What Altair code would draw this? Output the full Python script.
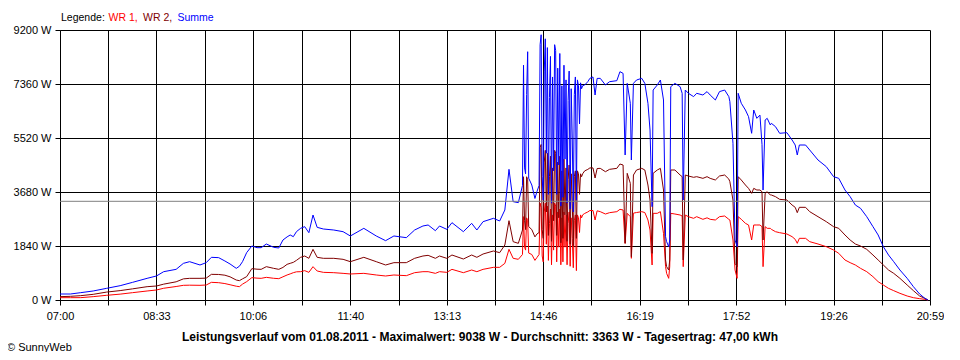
import json
import altair as alt
import pandas as pd

# ---------------- data ----------------
times = [
    "07:00", "07:10", "07:20", "07:32", "07:45", "07:58", "08:10", "08:24", "08:33", "08:40",
    "08:52", "08:59", "09:05", "09:15", "09:21", "09:26", "09:33", "09:39", "09:44", "09:50",
    "09:53", "09:56", "10:00", "10:05", "10:10", "10:14", "10:19", "10:26", "10:31", "10:35",
    "10:39", "10:42", "10:45", "10:48",
    "10:52", "10:56", "11:00", "11:04", "11:08", "11:14", "11:24", "11:33", "11:40", "11:53",
    "12:05", "12:14", "12:22", "12:34", "12:42", "12:50", "12:55", "13:02", "13:06", "13:13",
    "13:18", "13:29", "13:37", "13:42", "13:48", "13:58", "14:04", "14:09", "14:13", "14:17",
    "14:22", "14:26", "14:27", "14:28", "14:29", "14:30", "14:31", "14:32", "14:35", "14:38",
    "14:40", "14:42",
    "14:43", "14:44", "14:45", "14:46", "14:47", "14:48", "14:49", "14:50", "14:51", "14:52",
    "14:53", "14:54", "14:55", "14:56", "14:57", "14:58", "14:59", "15:00", "15:01", "15:02",
    "15:03", "15:04", "15:05", "15:06", "15:07", "15:08", "15:09", "15:10", "15:11", "15:12",
    "15:13", "15:14", "15:15", "15:16", "15:17", "15:18", "15:19", "15:20", "15:21", "15:22",
    "15:23", "15:24",
    "15:26", "15:29", "15:31", "15:34", "15:36", "15:38", "15:41", "15:46", "15:50", "15:57",
    "16:00", "16:03", "16:05", "16:07", "16:10", "16:11", "16:13", "16:16", "16:21", "16:24",
    "16:27", "16:29", "16:31", "16:32", "16:36", "16:39", "16:42", "16:44", "16:45", "16:47",
    "16:48", "16:49", "16:53", "16:58", "17:00", "17:01", "17:03", "17:06", "17:11", "17:14",
    "17:20", "17:24", "17:27", "17:32", "17:36", "17:41", "17:45", "17:46", "17:49", "17:51",
    "17:53", "17:54", "17:57", "18:01", "18:04", "18:07", "18:09", "18:12", "18:15", "18:17",
    "18:18", "18:20", "18:22", "18:25", "18:26", "18:30", "18:34", "18:41", "18:46", "18:49",
    "18:51", "18:53", "18:59", "19:03", "19:11", "19:19", "19:26", "19:31", "19:37", "19:42",
    "19:47", "19:52", "19:58", "20:04", "20:09", "20:14", "20:19", "20:24", "20:30", "20:37",
    "20:43", "20:49", "20:54", "20:57",
]

summe = [
    204, 204, 250, 307, 398, 488, 602, 738, 818, 965,
    1045, 1249, 1306, 1193, 1272, 1454, 1443, 1329, 1227, 1079,
    1150, 1306, 1613, 1840, 1783, 1783, 1908, 1795, 1772, 2044,
    2150, 2215, 2158, 2328,
    2442, 2499, 2294, 2896, 2476, 2419, 2385, 2328, 2181, 2442,
    2181, 2022, 2181, 2124, 2385, 2522, 2556, 2362, 2522, 2408,
    2635, 2328, 2612, 2385, 2669, 2783, 2692, 3067, 4452, 3351,
    3317, 3900, 8000, 4500, 4300, 7000, 8460, 4150, 3918, 3460,
    3700, 3900,
    8700, 9038, 4200, 3400, 7800, 8900, 5000, 8600, 3600, 6900,
    8300, 3300, 7600, 4400, 8700, 8500, 3600, 7900, 4600, 8400,
    3200, 7300, 3500, 8000, 4800, 7500, 3300, 6800, 7800, 3100,
    7200, 5500, 3000, 7000, 7600, 3400, 7500, 7300, 6000, 7400,
    7200, 7300,
    7326, 7439, 7553, 7600, 6985, 7550, 7553, 7326, 7439, 7473,
    7780, 7723, 4941, 7382, 6703, 4770, 7382, 7496, 7553, 7382,
    6703, 5793, 3180, 7155, 7326, 7496, 6815, 2158, 1988, 1817,
    2044, 7269, 7382, 7269, 7043, 3407, 7155, 7043, 6930, 7043,
    6985, 7100, 6985, 6815, 7100, 7155, 6930, 6760, 5339, 2044,
    1817, 7043, 6703, 6474, 6247, 5680, 6474, 6190, 6300, 5300,
    3748, 6133, 6190, 5963, 6020, 5907, 5680, 5702, 5452, 5281,
    4941, 5281, 5281, 5111, 4770, 4543, 4202, 4145, 3748, 3521,
    3237, 3124, 2839, 2499, 2215, 1817, 1533, 1306, 1022, 738,
    454, 204, 57, 0,
]

wr2 = [
    114, 125, 148, 193, 270, 320, 380, 454, 477, 540,
    620, 720, 738, 738, 745, 874, 870, 845, 790, 680,
    659, 720, 795, 1068, 1050, 1045, 1136, 1079, 1045, 1110,
    1215, 1250, 1283, 1350,
    1454, 1499, 1420, 1726, 1454, 1420, 1420, 1386, 1306, 1454,
    1306, 1193, 1272, 1272, 1420, 1499, 1522, 1420, 1499, 1420,
    1533, 1397, 1533, 1454, 1567, 1670, 1613, 1874, 2703, 1988,
    1931, 2385, 4200, 2700, 2400, 4200, 4100, 2500, 2400, 2150,
    2250, 2300,
    5200, 5300, 2400, 2100, 4700, 5100, 3000, 5000, 2200, 4200,
    4900, 2000, 4500, 2700, 5100, 5000, 2200, 4700, 2800, 4900,
    1950, 4400, 2100, 4800, 2900, 4500, 2000, 4100, 4600, 1900,
    4300, 3300, 1850, 4200, 4400, 2100, 4400, 4300, 3600, 4300,
    4200, 4300,
    4400, 4450, 4500, 4500, 4157, 4480, 4486, 4372, 4452, 4486,
    4634, 4600, 1931, 4316, 3975, 1476, 4259, 4430, 4486, 4430,
    3918, 3407, 1590, 4316, 4430, 4486, 3748, 1363, 1136, 1022,
    1363, 4430, 4430, 4259, 4202, 1363, 4259, 4225, 4180, 4202,
    4145, 4202, 4145, 4089, 4225, 4259, 4120, 4032, 3407, 1249,
    1136, 4202, 4089, 3918, 3804, 3634, 3804, 3748, 3748, 3690,
    2044, 3634, 3690, 3578, 3578, 3521, 3430, 3407, 3237, 3158,
    2976, 3158, 3158, 3010, 2839, 2669, 2499, 2442, 2215, 2044,
    1908, 1840, 1726, 1533, 1363, 1193, 1022, 908, 738, 511,
    318, 136, 57, 0,
]

wr1 = [
    79, 79, 80, 114, 160, 200, 250, 307, 341, 400,
    460, 500, 505, 500, 511, 602, 590, 560, 520, 470,
    454, 540, 625, 761, 745, 738, 772, 740, 727, 790,
    852, 890, 931, 960,
    965, 1000, 942, 1136, 988, 942, 931, 908, 886, 908,
    852, 818, 852, 829, 931, 965, 965, 908, 965, 942,
    1045, 931, 1022, 965, 1045, 1113, 1113, 1249, 1726, 1420,
    1386, 1550, 2840, 1800, 1700, 2800, 2700, 1600, 1550, 1350,
    1450, 1550,
    3300, 3150, 1500, 1300, 3000, 3300, 1900, 3200, 1350, 2600,
    3100, 1200, 2900, 1700, 3300, 3200, 1300, 3000, 1800, 3100,
    1200, 2800, 1300, 3000, 1800, 2900, 1200, 2600, 3000, 1150,
    2800, 2100, 1100, 2700, 2900, 1000, 2900, 2800, 2300, 2900,
    2800, 2900,
    2950, 3000, 3050, 3050, 2726, 3040, 3010, 2930, 2976, 3010,
    3090, 3067, 1931, 2953, 2839, 1420, 2960, 2980, 3010, 2980,
    2726, 2385, 1193, 2953, 2953, 3010, 2272, 1136, 908, 738,
    1136, 2953, 2930, 2896, 2862, 1136, 2896, 2839, 2783, 2839,
    2749, 2800, 2749, 2726, 2839, 2862, 2749, 2726, 2044, 1022,
    738, 2839, 2750, 2612, 2556, 2044, 2556, 2556, 2556, 2499,
    1136, 2499, 2442, 2442, 2408, 2328, 2294, 2249, 2158, 2067,
    1931, 2101, 2101, 1988, 1908, 1817, 1704, 1590, 1363, 1272,
    1193, 1079, 965, 795, 625, 511, 397, 318, 227, 136,
    79, 45, 23, 0,
]

y_ticks = [0, 1840, 3680, 5520, 7360, 9200]
x_tick_labels = ["07:00", "08:33", "10:06", "11:40", "13:13",
                 "14:46", "16:19", "17:52", "19:26", "20:59"]
average_w = [3363]

legend_texts = ["Legende:", "WR 1,", "WR 2,", "Summe"]
legend_colors = ["#000000", "#ff0000", "#800000", "#0000ff"]
title_text = ("Leistungsverlauf vom 01.08.2011 - Maximalwert: 9038 W - "
              "Durchschnitt: 3363 W - Tagesertrag: 47,00 kWh")
credit_text = "\u00a9 SunnyWeb"

# ---------------- build ----------------
FONT = "Liberation Sans"


def to_min(s):
    h, m = s.split(":")
    return int(h) * 60 + int(m)


df = pd.DataFrame({
    "minute": [to_min(t) for t in times],
    "wr1": wr1,
    "wr2": wr2,
    "summe": summe,
})

label_min = [to_min(t) for t in x_tick_labels]
grid_vals = []
for a, b in zip(label_min[:-1], label_min[1:]):
    grid_vals += [a, (a + b) / 2]
grid_vals.append(label_min[-1])

label_expr = ("indexof(" + json.dumps(label_min) + ", datum.value) >= 0 ? "
              "format(floor(datum.value / 60), '02d') + ':' + "
              "format(datum.value % 60, '02d') : ''")

x_scale = alt.Scale(domain=[label_min[0], label_min[-1]], nice=False, zero=False)
y_scale = alt.Scale(domain=[y_ticks[0], y_ticks[-1]], nice=False, zero=True)

x_axis = alt.Axis(values=grid_vals, labelExpr=label_expr, title=None,
                  grid=True, gridColor="#000000", gridOpacity=1, gridWidth=1,
                  domainColor="#000000", domainWidth=1,
                  tickColor="#000000", tickSize=5, tickWidth=1,
                  labelFont=FONT, labelFontSize=11, labelColor="#000000",
                  labelPadding=5, labelAngle=0, labelOverlap=False,
                  labelFlush=False, labelBound=False)
y_axis = alt.Axis(values=y_ticks, labelExpr="datum.value + ' W'", title=None,
                  grid=True, gridColor="#000000", gridOpacity=1, gridWidth=1,
                  domainColor="#000000", domainWidth=1,
                  tickColor="#000000", tickSize=5, tickWidth=1,
                  labelFont=FONT, labelFontSize=11, labelColor="#000000",
                  labelPadding=4, labelOverlap=False, labelFlush=False,
                  labelBound=False)

X = alt.X("minute:Q", scale=x_scale, axis=x_axis)


def series(field, color):
    return alt.Chart(df).mark_line(color=color, strokeWidth=1).encode(
        x=X, y=alt.Y(field + ":Q", scale=y_scale, axis=y_axis)
    )


line_wr1 = series("wr1", "#ff0000")
line_wr2 = series("wr2", "#800000")
line_sum = series("summe", "#0000ff")

avg_rule = alt.Chart(pd.DataFrame({"avg": average_w})).mark_rule(
    color="#808080", strokeWidth=1
).encode(y=alt.Y("avg:Q", scale=y_scale, axis=y_axis))


def text_layer(text, x, y, color="#000000", size=11, weight="normal", align="left"):
    return alt.Chart(pd.DataFrame({"t": [text]})).mark_text(
        font=FONT, fontSize=size, fontWeight=weight, color=color,
        align=align, baseline="alphabetic"
    ).encode(x=alt.value(x), y=alt.value(y), text="t:N")


legend_x = [1, 48.5, 83, 117.5]
legend_layers = [text_layer(t, lx, -9.5, c, size=10.5)
                 for t, lx, c in zip(legend_texts, legend_x, legend_colors)]

title_layer = text_layer(title_text, 420, 311, size=12, weight="bold", align="center")
credit_layer = text_layer(credit_text, -53, 321)

chart = alt.layer(
    line_wr1, line_wr2, line_sum, avg_rule, title_layer, credit_layer, *legend_layers
).properties(
    width=870, height=270,
    autosize=alt.AutoSizeParams(type="none"),
    padding={"left": 52, "top": 22, "right": 14, "bottom": 52},
).configure_view(stroke=None)

chart.save("out.html", embed_options={"renderer": "svg", "actions": False})
